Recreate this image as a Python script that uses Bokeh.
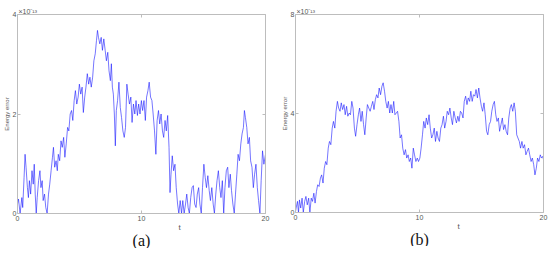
from bokeh.plotting import figure
from bokeh.layouts import row
from bokeh.models import LinearAxis, FixedTicker, Range1d, Title
from bokeh.embed import file_html
from bokeh.resources import INLINE

# ---------------- data (energy error, units of 1e-13) ----------------
t_a = [0.00, 0.08, 0.21, 0.35, 0.42, 0.53, 0.61, 0.69, 0.80, 0.88,
       0.96, 1.06, 1.17, 1.27, 1.35, 1.43, 1.51, 1.59, 1.70, 1.81,
       1.89, 1.99, 2.07, 2.18, 2.28, 2.39, 2.50, 2.60, 2.71, 2.82,
       2.90, 3.00, 3.11, 3.21, 3.29, 3.40, 3.51, 3.61, 3.72, 3.82,
       3.93, 4.04, 4.14, 4.25, 4.36, 4.46, 4.57, 4.67, 4.78, 4.89,
       4.99, 5.10, 5.21, 5.31, 5.42, 5.52, 5.63, 5.74, 5.84, 5.95,
       6.06, 6.16, 6.27, 6.37, 6.45, 6.53, 6.64, 6.75, 6.85, 6.96,
       7.07, 7.17, 7.28, 7.38, 7.49, 7.57, 7.65, 7.73, 7.81, 7.89,
       7.97, 8.07, 8.18, 8.29, 8.39, 8.50, 8.61, 8.71, 8.82, 8.92,
       9.03, 9.14, 9.24, 9.35, 9.46, 9.56, 9.67, 9.77, 9.88, 9.99,
       10.09, 10.20, 10.31, 10.41, 10.52, 10.62, 10.73, 10.84, 10.94, 11.05,
       11.16, 11.26, 11.37, 11.47, 11.58, 11.69, 11.79, 11.90, 12.00, 12.11,
       12.22, 12.30, 12.38, 12.48, 12.59, 12.70, 12.80, 12.91, 13.01, 13.12,
       13.23, 13.33, 13.44, 13.55, 13.65, 13.76, 13.86, 13.97, 14.08, 14.18,
       14.29, 14.40, 14.50, 14.61, 14.71, 14.82, 14.92, 15.03, 15.14, 15.24,
       15.35, 15.46, 15.56, 15.67, 15.78, 15.88, 15.99, 16.09, 16.20, 16.31,
       16.41, 16.52, 16.63, 16.73, 16.84, 16.95, 17.05, 17.16, 17.26, 17.37,
       17.48, 17.58, 17.69, 17.79, 17.90, 18.01, 18.11, 18.22, 18.30, 18.38,
       18.49, 18.59, 18.70, 18.80, 18.91, 19.02, 19.12, 19.23, 19.34, 19.44,
       19.55, 19.65, 19.76, 19.87, 20.00]
err_a = [0.19, 0.29, 0.00, 0.32, 0.12, 0.72, 1.19, 0.93, 0.52, 0.32,
         0.66, 0.39, 0.86, 0.59, 0.99, 0.39, 0.00, 0.32, 0.66, 0.86,
         0.52, 0.66, 0.26, 0.39, 0.12, 0.00, 0.39, 0.59, 0.86, 1.13,
         1.33, 0.93, 1.06, 0.86, 1.19, 1.06, 1.46, 1.33, 1.53, 1.13,
         1.40, 1.73, 1.66, 2.00, 2.07, 1.87, 2.27, 2.47, 2.20, 2.34,
         2.60, 2.40, 2.54, 2.03, 2.34, 2.54, 2.81, 2.60, 2.74, 2.54,
         2.74, 3.07, 3.21, 3.48, 3.68, 3.54, 3.41, 3.54, 3.28, 3.51,
         3.28, 3.07, 3.24, 2.87, 2.67, 3.01, 2.54, 2.40, 2.00, 1.36,
         2.07, 2.27, 2.64, 2.13, 1.93, 1.66, 1.53, 1.73, 2.60, 2.40,
         2.20, 2.34, 1.83, 2.20, 2.00, 2.27, 1.97, 2.20, 2.00, 2.27,
         2.07, 2.27, 1.87, 2.34, 2.47, 2.64, 2.34, 2.27, 2.00, 1.66,
         1.19, 1.87, 2.07, 1.80, 2.00, 1.66, 1.53, 1.87, 1.66, 1.97,
         1.33, 0.42, 0.79, 1.16, 0.86, 0.99, 0.52, 0.19, 0.00, 0.26,
         0.00, 0.26, 0.00, 0.19, 0.39, 0.12, 0.00, 0.32, 0.52, 0.56,
         0.19, 0.12, 0.39, 0.52, 0.19, 0.00, 0.52, 0.99, 0.72, 0.52,
         0.76, 0.46, 0.26, 0.52, 0.19, 0.00, 0.39, 0.66, 0.86, 0.52,
         0.32, 0.66, 0.00, 0.52, 0.86, 0.93, 0.52, 0.79, 0.46, 0.19,
         0.00, 0.39, 0.79, 1.19, 1.06, 1.40, 1.60, 1.73, 2.07, 1.93,
         1.73, 1.40, 1.53, 1.06, 0.93, 0.52, 0.79, 0.99, 0.52, 0.26,
         0.00, 0.66, 1.26, 0.99, 1.19]

t_b = [0.00, 0.05, 0.16, 0.24, 0.32, 0.42, 0.53, 0.63, 0.74, 0.84,
       0.95, 1.06, 1.16, 1.27, 1.37, 1.48, 1.58, 1.69, 1.79, 1.90,
       2.01, 2.11, 2.22, 2.32, 2.43, 2.53, 2.64, 2.74, 2.85, 2.96,
       3.06, 3.17, 3.27, 3.38, 3.48, 3.59, 3.69, 3.80, 3.91, 4.01,
       4.12, 4.22, 4.33, 4.43, 4.54, 4.64, 4.75, 4.85, 4.96, 5.07,
       5.17, 5.28, 5.38, 5.49, 5.59, 5.70, 5.80, 5.91, 6.02, 6.12,
       6.23, 6.33, 6.44, 6.54, 6.65, 6.75, 6.86, 6.97, 7.07, 7.18,
       7.28, 7.39, 7.49, 7.60, 7.70, 7.81, 7.92, 8.02, 8.13, 8.23,
       8.34, 8.44, 8.55, 8.65, 8.76, 8.87, 8.97, 9.08, 9.18, 9.29,
       9.39, 9.50, 9.60, 9.71, 9.82, 9.92, 10.03, 10.13, 10.24, 10.34,
       10.45, 10.55, 10.66, 10.77, 10.87, 10.98, 11.08, 11.19, 11.29, 11.40,
       11.50, 11.61, 11.72, 11.82, 11.93, 12.03, 12.14, 12.24, 12.35, 12.45,
       12.56, 12.66, 12.77, 12.88, 12.98, 13.09, 13.19, 13.30, 13.40, 13.51,
       13.61, 13.72, 13.83, 13.93, 14.04, 14.14, 14.25, 14.35, 14.46, 14.56,
       14.67, 14.78, 14.88, 14.99, 15.09, 15.20, 15.30, 15.41, 15.51, 15.62,
       15.73, 15.83, 15.94, 16.04, 16.15, 16.25, 16.36, 16.46, 16.57, 16.68,
       16.78, 16.89, 16.99, 17.10, 17.20, 17.31, 17.41, 17.52, 17.63, 17.73,
       17.84, 17.94, 18.05, 18.15, 18.26, 18.36, 18.47, 18.58, 18.68, 18.79,
       18.89, 19.00, 19.10, 19.21, 19.31, 19.42, 19.52, 19.63, 19.74, 19.84,
       19.95, 20.00]
err_b = [0.04, 0.18, 0.45, 0.00, 0.51, 0.18, 0.58, 0.00, 0.45, 0.65,
         0.31, 0.58, 0.00, 0.58, 0.45, 0.78, 0.38, 0.85, 1.12, 1.05,
         1.39, 1.52, 1.19, 1.79, 2.06, 1.93, 2.60, 2.87, 2.74, 3.41,
         3.68, 3.41, 4.09, 4.49, 4.22, 4.09, 4.43, 4.16, 4.36, 3.95,
         4.29, 3.89, 4.02, 3.95, 4.49, 4.22, 3.41, 3.08, 3.55, 3.95,
         4.22, 3.68, 4.09, 3.55, 3.14, 3.82, 4.36, 4.22, 4.09, 4.29,
         4.49, 4.16, 4.56, 4.76, 4.63, 5.03, 4.76, 5.10, 5.24, 4.90,
         4.49, 4.22, 4.49, 4.02, 4.36, 4.02, 4.49, 3.95, 4.02, 4.09,
         3.68, 3.01, 3.14, 2.60, 2.33, 2.54, 2.20, 2.33, 2.06, 2.20,
         1.79, 2.60, 2.33, 2.06, 2.20, 2.06, 2.20, 2.60, 3.14, 3.68,
         3.41, 3.82, 3.55, 3.95, 3.41, 3.01, 3.14, 3.41, 2.87, 3.28,
         3.01, 2.87, 3.41, 3.55, 3.89, 3.41, 3.68, 4.09, 3.95, 4.22,
         3.82, 3.55, 4.09, 3.82, 3.62, 3.89, 3.68, 4.09, 4.02, 3.82,
         4.49, 4.70, 4.36, 4.63, 4.49, 4.90, 4.49, 4.76, 4.70, 4.97,
         4.63, 5.03, 4.63, 4.29, 4.09, 4.43, 3.95, 3.28, 3.14, 3.55,
         3.68, 4.09, 4.36, 4.49, 3.95, 3.68, 3.82, 3.28, 3.55, 3.82,
         3.35, 3.55, 3.28, 3.14, 3.82, 4.22, 4.36, 4.09, 4.43, 4.09,
         3.14, 3.01, 2.87, 2.60, 2.87, 2.60, 2.74, 2.33, 2.47, 2.60,
         2.33, 2.06, 2.20, 1.93, 1.52, 1.79, 2.20, 2.06, 2.33, 2.20,
         2.27, 2.13]

x_ticks = [0, 10, 20]
y_ticks_a = [0, 2, 4]
y_ticks_b = [0, 4, 8]
x_label = "t"
y_label = "Energy error"
exponent = "\u00d710\u207b\u00b9\u00b3"
captions = ["(a)", "(b)"]

AXIS_COL = "#bdbdbd"
TXT_COL = "#555555"
SANS = "Liberation Sans"


def style_axis(ax, ticks, show_labels=True):
    ax.ticker = FixedTicker(ticks=ticks)
    ax.axis_line_color = AXIS_COL
    ax.axis_line_width = 1
    ax.major_tick_line_color = AXIS_COL
    ax.major_tick_in = 3
    ax.major_tick_out = 0
    ax.minor_tick_line_color = None
    ax.major_label_text_font = SANS
    if show_labels:
        ax.major_label_text_color = TXT_COL
        ax.major_label_text_font_size = "7px"
        ax.major_label_standoff = 2
    else:
        ax.major_label_text_color = None
        ax.major_label_text_font_size = "1px"
        ax.major_label_standoff = 0


def title(text, size, align, offset, font=SANS, color=TXT_COL, standoff=0):
    return Title(text=text, text_font=font, text_font_size=size,
                 text_font_style="normal", text_color=color, align=align,
                 offset=offset, standoff=standoff)


def make_panel(t, err, ymax, yticks, mb_left, mb_right, mb_top, fw, fh,
               caption, cap_off, t_off):
    p = figure(frame_width=fw, frame_height=fh,
               x_range=Range1d(0, 20), y_range=Range1d(0, ymax),
               output_backend="svg", toolbar_location=None,
               min_border_left=mb_left, min_border_right=mb_right,
               min_border_top=mb_top, min_border_bottom=30,
               background_fill_color="white", border_fill_color="white")
    p.xgrid.visible = False
    p.ygrid.visible = False
    p.outline_line_color = None

    style_axis(p.xaxis[0], x_ticks)
    style_axis(p.yaxis[0], yticks)
    p.yaxis[0].major_label_standoff = 1
    p.yaxis[0].axis_label = y_label
    p.yaxis[0].axis_label_text_font = SANS
    p.yaxis[0].axis_label_text_font_size = "6px"
    p.yaxis[0].axis_label_text_font_style = "normal"
    p.yaxis[0].axis_label_text_color = TXT_COL
    p.yaxis[0].axis_label_standoff = 0

    top = LinearAxis()
    style_axis(top, x_ticks, show_labels=False)
    p.add_layout(top, "above")
    right = LinearAxis()
    style_axis(right, yticks, show_labels=False)
    p.add_layout(right, "right")

    p.add_layout(title(exponent, "7px", "left", 1), "above")
    p.add_layout(title(x_label, "8px", "left", t_off, standoff=-5), "below")
    p.add_layout(title(caption, "16px", "center", cap_off,
                       font="Liberation Serif", color="#111111"), "below")

    p.line(t, err, line_color="#1414ff", line_width=0.65, line_alpha=0.9)
    return p


pa = make_panel(t_a, err_a, 4, y_ticks_a, 14, 13, 14, 248, 199,
                captions[0], -6, 161)
pb = make_panel(t_b, err_b, 8, y_ticks_b, 14, 5, 13, 248, 198,
                captions[1], -24, 162)

layout = row(pa, pb)

open("out.html", "w").write(file_html(layout, INLINE))
